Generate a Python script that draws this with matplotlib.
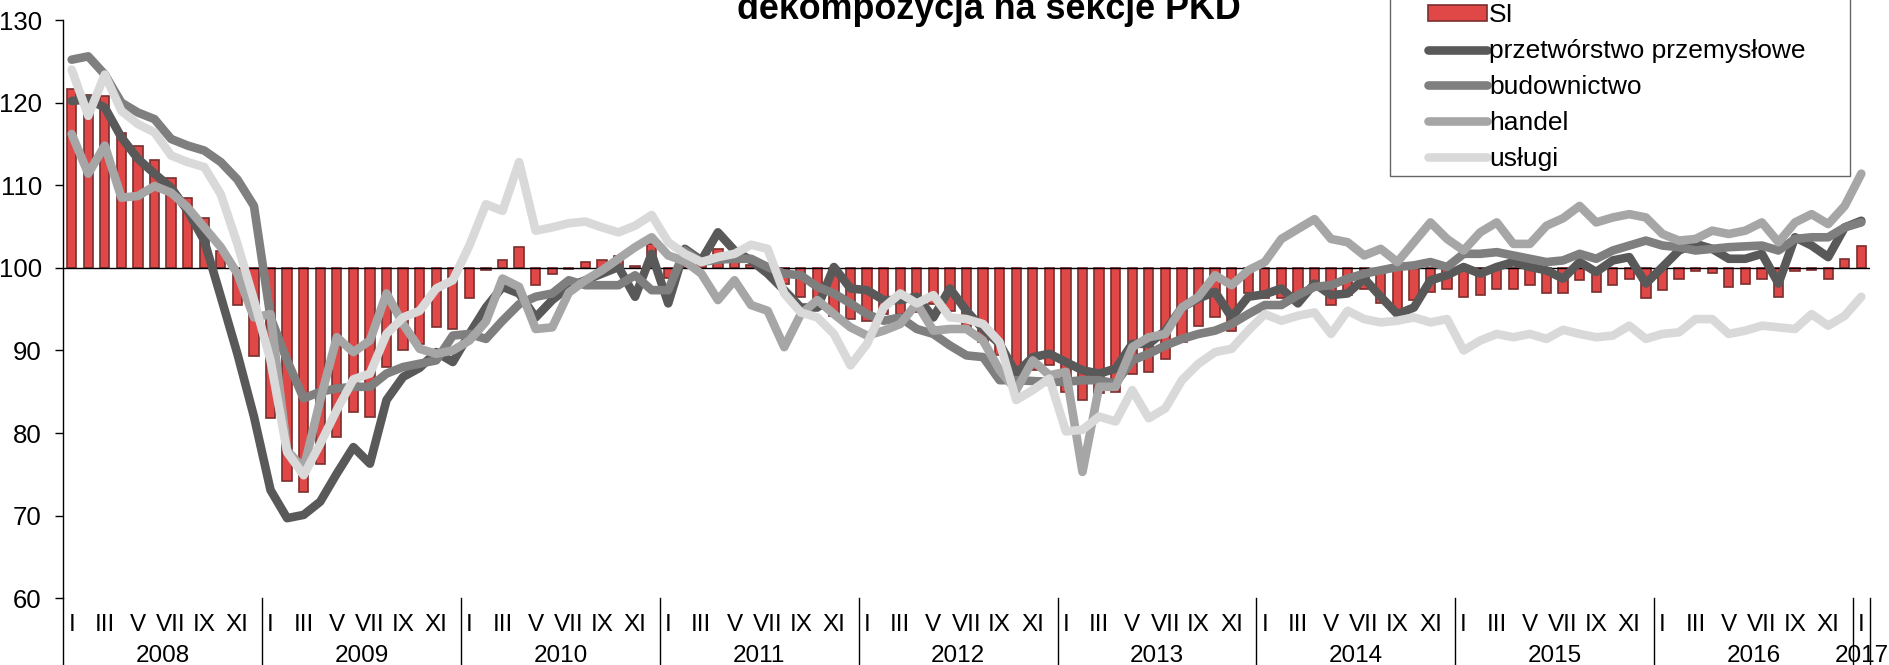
"""Koniunktura: wskaźnik SI i jego dekompozycja na sekcje PKD (2008-2017)."""

import matplotlib

matplotlib.use("Agg")

import matplotlib.pyplot as plt
from matplotlib.lines import Line2D
from matplotlib.patches import Patch, Rectangle

plt.rcParams["font.family"] = ["Liberation Sans", "DejaVu Sans"]

YEARS = ["2008", "2009", "2010", "2011", "2012", "2013", "2014", "2015", "2016", "2017"]
MONTH_LABELS = ["I", "III", "V", "VII", "IX", "XI"]

# monthly values, I 2008 .. I 2017
si = [
    121.7, 120.9, 120.8, 116.3, 114.7, 113.1, 110.9, 108.5, 106.0, 102.0, 95.5, 89.3,
    81.8, 74.2, 72.9, 76.3, 79.5, 82.6, 82.0, 88.0, 90.1, 90.8, 92.8, 92.6,
    96.4, 99.7, 100.9, 102.5, 97.9, 99.3, 99.9, 100.7, 101.0, 101.4, 100.2, 102.9,
    98.8, 100.3, 100.6, 102.3, 100.9, 100.3, 99.4, 98.0, 96.5, 95.0, 94.2, 93.8,
    93.6, 94.4, 94.4, 94.6, 95.6, 94.8, 92.5, 91.0, 89.5, 88.0, 87.6, 88.2,
    85.0, 84.0, 84.8, 85.0, 87.2, 87.4, 89.0, 91.0, 93.0, 94.0, 92.4, 96.9,
    96.3, 96.3, 96.9, 98.1, 95.5, 96.7, 97.5, 95.7, 94.6, 96.1, 97.1, 97.5,
    96.5, 96.7, 97.5, 97.5, 97.9, 96.9, 96.9, 98.5, 97.1, 97.9, 98.7, 96.3,
    97.3, 98.6, 99.6, 99.4, 97.7, 98.0, 98.7, 96.5, 99.6, 99.8, 98.6, 101.1,
    102.6,
]
przetworstwo = [
    120.2, 120.4, 119.4, 115.8, 113.2, 111.4, 109.7, 106.9, 103.3, 96.5, 89.6, 82.0,
    73.1, 69.7, 70.1, 71.7, 75.1, 78.3, 76.3, 84.0, 86.8, 87.9, 89.8, 88.6,
    92.0, 95.2, 97.7, 96.9, 94.0, 96.1, 97.7, 98.5, 99.3, 100.1, 96.5, 101.7,
    95.7, 102.3, 100.9, 104.3, 102.1, 100.9, 99.3, 97.3, 95.2, 95.2, 100.1, 97.5,
    97.3, 96.1, 96.1, 96.5, 94.0, 97.5, 94.8, 92.6, 90.8, 87.2, 89.2, 89.6,
    88.6, 87.6, 87.2, 87.8, 90.8, 90.8, 92.4, 95.2, 96.3, 97.1, 94.0, 96.5,
    96.8, 97.5, 95.7, 98.1, 96.7, 96.9, 98.7, 96.5, 94.4, 95.2, 98.5, 99.1,
    100.1, 99.3, 100.1, 100.7, 100.1, 99.7, 98.7, 100.7, 99.5, 100.9, 101.3, 98.1,
    100.1, 102.1, 102.9, 102.3, 101.1, 101.1, 101.7, 98.1, 103.7, 102.7, 101.3, 104.9,
    105.7,
]
budownictwo = [
    125.2, 125.6, 123.4, 120.0, 118.8, 118.0, 115.6, 114.8, 114.2, 112.8, 110.7, 107.5,
    94.0, 88.8, 84.2, 85.0, 85.4, 85.6, 85.6, 87.2, 88.0, 88.4, 88.8, 91.8,
    92.0, 91.4, 93.6, 95.6, 96.5, 96.9, 98.5, 97.9, 97.9, 97.9, 99.1, 97.3,
    97.3, 102.1, 100.7, 101.0, 101.1, 101.1, 100.1, 99.3, 99.1, 97.7, 96.9, 95.7,
    94.4, 93.6, 94.0, 92.6, 92.0, 90.6, 89.4, 89.2, 86.4, 86.4, 86.3, 86.2,
    86.2, 86.4, 86.4, 86.0, 88.8, 89.6, 90.6, 91.4, 92.0, 92.4, 93.2, 94.4,
    95.5, 95.5, 96.7, 97.7, 97.9, 98.7, 99.3, 99.7, 100.1, 100.3, 100.7, 100.1,
    101.7, 101.7, 101.9, 101.5, 101.1, 100.7, 100.9, 101.7, 101.1, 102.1, 102.7, 103.3,
    102.7, 102.5, 102.1, 102.3, 102.5, 102.6, 102.7, 102.1, 103.5, 103.7, 103.7, 104.9,
    105.5,
]
handel = [
    116.2, 111.4, 114.8, 108.5, 108.7, 109.9, 109.1, 107.3, 104.9, 102.5, 99.3, 94.0,
    94.4, 77.9, 75.7, 84.0, 91.6, 89.8, 91.2, 96.9, 93.2, 90.2, 89.6, 90.0,
    91.2, 93.5, 98.7, 97.7, 92.6, 92.8, 97.0, 98.5, 99.7, 101.1, 102.5, 103.7,
    101.5, 100.8, 99.3, 96.1, 98.5, 95.5, 94.8, 90.4, 94.4, 96.1, 94.4, 92.8,
    91.8, 92.4, 93.2, 95.7, 92.4, 92.6, 92.6, 91.2, 87.6, 85.2, 88.8, 87.0,
    87.4, 75.3, 85.6, 85.6, 90.4, 91.6, 92.0, 95.2, 96.5, 99.1, 97.9, 99.7,
    100.7, 103.5, 104.7, 105.9, 103.5, 103.1, 101.5, 102.3, 100.7, 103.1, 105.5, 103.5,
    102.1, 104.3, 105.5, 102.9, 102.9, 105.1, 106.0, 107.5, 105.5, 106.1, 106.5, 106.1,
    104.1, 103.3, 103.5, 104.5, 104.1, 104.5, 105.5, 103.1, 105.5, 106.5, 105.3, 107.5,
    111.4,
]
uslugi = [
    124.0, 118.4, 123.4, 119.0, 117.4, 116.4, 113.6, 112.8, 112.2, 108.9, 102.9, 96.1,
    88.8, 77.7, 74.9, 78.7, 82.8, 86.5, 87.2, 92.0, 94.0, 94.8, 97.5, 98.5,
    102.7, 107.7, 106.9, 112.8, 104.5, 104.9, 105.4, 105.6, 104.9, 104.3, 105.1, 106.4,
    103.1, 101.7, 100.7, 101.3, 101.7, 102.8, 102.3, 96.9, 94.6, 94.0, 92.0, 88.2,
    90.8, 95.2, 96.9, 95.7, 96.7, 94.0, 93.8, 93.2, 91.0, 84.0, 85.2, 86.6,
    80.2, 80.4, 82.0, 81.4, 85.2, 81.8, 83.0, 86.4, 88.4, 89.8, 90.2, 92.4,
    94.4, 93.6, 94.2, 94.6, 92.0, 94.8, 93.8, 93.4, 93.6, 94.0, 93.4, 93.8,
    90.0, 91.2, 92.0, 91.6, 92.0, 91.4, 92.5, 92.0, 91.6, 91.8, 93.0, 91.4,
    92.0, 92.2, 93.8, 93.8, 92.0, 92.4, 93.0, 92.8, 92.6, 94.4, 93.0, 94.2,
    96.5,
]

SERIES = [
    ("przetwórstwo przemysłowe", przetworstwo, "#595959"),
    ("budownictwo", budownictwo, "#7f7f7f"),
    ("handel", handel, "#a6a6a6"),
    ("usługi", uslugi, "#d9d9d9"),
]
BAR_FACE = "#e04848"
BAR_EDGE = "#7a2e2e"
LINE_WIDTH = 6.2


def main() -> None:
    fig = plt.figure(figsize=(18.89, 6.65), dpi=100)
    ax = fig.add_axes([0.03356, 0.1003, 0.95617, 0.8696])

    n = len(si)
    x = list(range(n))
    base = 100
    ax.bar(x, [v - base for v in si], bottom=base, width=0.56,
           color=BAR_FACE, edgecolor=BAR_EDGE, linewidth=1.2, zorder=2)
    ax.axhline(base, color="black", linewidth=1.0, zorder=3)
    for label, values, color in SERIES:
        ax.plot(x, values, color=color, linewidth=LINE_WIDTH, label=label,
                solid_joinstyle="round", solid_capstyle="round", zorder=4)

    ax.set_xlim(-0.5, n - 0.5)
    ax.set_ylim(60, 130)
    ax.set_yticks(range(60, 131, 10))
    ax.tick_params(axis="y", direction="out", length=5.5, width=1.0, pad=10, labelsize=18.5)

    # roman month labels every second month, the last year has only I
    positions = [m for m in range(n) if m % 2 == 0]
    labels = [MONTH_LABELS[(m % 12) // 2] for m in positions]
    ax.set_xticks(positions, labels)
    ax.tick_params(axis="x", length=0, pad=11, labelsize=17.5)

    for side in ("top", "right", "bottom"):
        ax.spines[side].set_visible(False)
    ax.spines["left"].set_linewidth(1.0)

    # year separators and year captions below the month labels
    trans = ax.get_xaxis_transform()
    bounds = [-0.5 + 12 * k for k in range(len(YEARS))] + [n - 0.5]
    for b in bounds:
        ax.plot([b, b], [0, -0.13], transform=trans, color="black",
                linewidth=1.0, clip_on=False)
    for k, year in enumerate(YEARS):
        centre = (bounds[k] + bounds[k + 1]) / 2
        ax.text(centre, -0.1, year, transform=trans, ha="center", va="center",
                fontsize=17.5)

    fig.text(0.5236, 0.971, "dekompozycja na sekcje PKD", ha="center",
             va="baseline", fontsize=25.8, fontweight="bold")

    # legend box runs off the top edge of the figure
    fig.patches.append(Rectangle((0.7358, 0.7353), 0.2435, 0.4,
                                 transform=fig.transFigure, facecolor="white",
                                 edgecolor="#666666", linewidth=1.0, zorder=5))
    handles = [Patch(facecolor=BAR_FACE, edgecolor=BAR_EDGE, linewidth=1.2)]
    handles += [Line2D([], [], color=c, linewidth=LINE_WIDTH, solid_capstyle="round")
                for _, _, c in SERIES]
    names = ["SI"] + [s[0] for s in SERIES]
    leg = fig.legend(handles, names, loc="upper left", bbox_to_anchor=(0.756, 0.995),
                     frameon=False, fontsize=19, handlelength=2.23, handleheight=0.55,
                     handletextpad=0.08, labelspacing=0.45, borderpad=0,
                     borderaxespad=0)
    leg.set_zorder(6)

    fig.savefig("out.png", dpi=100)
    plt.close(fig)


if __name__ == "__main__":
    main()
